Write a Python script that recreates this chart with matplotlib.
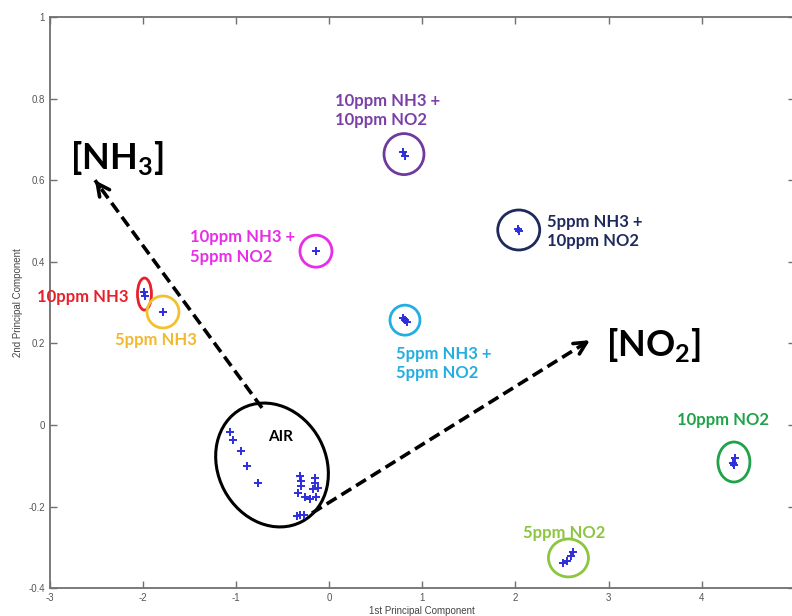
import matplotlib
matplotlib.use("Agg")
import matplotlib.pyplot as plt
import numpy as np
from matplotlib.patches import Ellipse
from matplotlib.transforms import Affine2D, ScaledTranslation

plt.rcParams['mathtext.fontset'] = 'custom'
plt.rcParams['mathtext.rm'] = 'Lato:bold'

# ---- data (PCA scores) ----
air_x = [-1.067, -1.034, -0.948, -0.884, -0.766, -0.315, -0.304, -0.304, -0.154, -0.154,
         -0.175, -0.336, -0.261, -0.207, -0.143, -0.315, -0.272, -0.347, -0.121]
air_y = [-0.017, -0.037, -0.064, -0.100, -0.142, -0.125, -0.137, -0.150, -0.130, -0.142,
         -0.157, -0.167, -0.176, -0.181, -0.176, -0.221, -0.221, -0.223, -0.154]
nh3_10_x = [-1.990, -1.980]
nh3_10_y = [0.326, 0.316]
nh3_5_x = [-1.786]
nh3_5_y = [0.277]
nh3_10_no2_5_x = [-0.143]
nh3_10_no2_5_y = [0.426]
nh3_10_no2_10_x = [0.792, 0.813]
nh3_10_no2_10_y = [0.669, 0.659]
nh3_5_no2_10_x = [2.030, 2.040]
nh3_5_no2_10_y = [0.480, 0.476]
nh3_5_no2_5_x = [0.792, 0.835, 0.812]
nh3_5_no2_5_y = [0.262, 0.252, 0.257]
no2_10_x = [4.358, 4.336, 4.345]
no2_10_y = [-0.081, -0.093, -0.098]
no2_5_x = [2.510, 2.553, 2.596, 2.617]
no2_5_y = [-0.338, -0.333, -0.321, -0.311]

x_ticks = [-3, -2, -1, 0, 1, 2, 3, 4, 5]
x_ticklabels = ['-3', '-2', '-1', '0', '1', '2', '3', '4', '']
y_ticks = [-0.4, -0.2, 0, 0.2, 0.4, 0.6, 0.8, 1]
y_ticklabels = ['-0.4', '-0.2', '0', '0.2', '0.4', '0.6', '0.8', '1']

fig = plt.figure(figsize=(7.92, 6.16), dpi=100)
ax = fig.add_axes([0.0631, 0.0451, 0.9404, 0.9273])
ax.set_xlim(-3, 5)
ax.set_ylim(-0.4, 1)

marker_color = '#2E2EDC'
groups = [
    (air_x, air_y), (nh3_10_x, nh3_10_y), (nh3_5_x, nh3_5_y),
    (nh3_10_no2_5_x, nh3_10_no2_5_y), (nh3_10_no2_10_x, nh3_10_no2_10_y),
    (nh3_5_no2_10_x, nh3_5_no2_10_y), (nh3_5_no2_5_x, nh3_5_no2_5_y),
    (no2_10_x, no2_10_y), (no2_5_x, no2_5_y),
]
for gx, gy in groups:
    ax.plot(gx, gy, linestyle='none', marker='+', ms=5.5, mew=1.4, color=marker_color, zorder=5)


def px_ellipse(xc, yc, w, h, angle, color, lw=2.0):
    tr = Affine2D() + ScaledTranslation(xc, yc, ax.transData)
    e = Ellipse((0, 0), w, h, angle=angle, transform=tr, fill=False,
                edgecolor=color, lw=lw, zorder=4, clip_on=False)
    ax.add_artist(e)


def mean(v):
    return float(np.mean(v))

# circles around clusters (pixel sizes)
circles = [
    (nh3_10_x, nh3_10_y, 14, 32, 0, '#E8202A'),
    (nh3_5_x, nh3_5_y, 32, 32, 0, '#F2C12E'),
    (nh3_10_no2_5_x, nh3_10_no2_5_y, 32, 32, 0, '#E62EE6'),
    (nh3_10_no2_10_x, nh3_10_no2_10_y, 40, 41, 0, '#6E3A9E'),
    (nh3_5_no2_10_x, nh3_5_no2_10_y, 42, 40, 0, '#1F2A5C'),
    (nh3_5_no2_5_x, nh3_5_no2_5_y, 30, 30, 0, '#22AEE0'),
    (no2_10_x, no2_10_y, 32, 40, 0, '#1FA24A'),
    (no2_5_x, no2_5_y, 40, 38, 0, '#8CC63F'),
]
for cx, cy, w, h, a, c in circles:
    px_ellipse(mean(cx), mean(cy), w, h, a, c)

# AIR ellipse
px_ellipse(-0.615, -0.098, 108, 128, 28, 'black', lw=2.2)

# dashed arrows
dash = (0, (3.2, 1.6))
arrows = [((-0.723, 0.042), (-2.517, 0.600)),
          ((-0.186, -0.216), (2.800, 0.208))]
for (tx, ty), (hx, hy) in arrows:
    ax.plot([tx, hx], [ty, hy], color='black', lw=2.6, linestyle=dash, zorder=3,
            solid_capstyle='butt', dash_capstyle='butt')
    sx = hx - 0.03 * (hx - tx)
    sy = hy - 0.03 * (hy - ty)
    ax.annotate('', xy=(hx, hy), xytext=(sx, sy),
                arrowprops=dict(arrowstyle='->', color='black', lw=2.6,
                                mutation_scale=22, shrinkA=0, shrinkB=0), zorder=3)

lab_font = dict(family='Lato', fontweight='bold', fontsize=12)
labels = [
    (0.061, 0.770, '10ppm NH3 +\n10ppm NO2', '#7A3FA8'),
    (-1.496, 0.436, '10ppm NH3 +\n5ppm NO2', '#E62EE6'),
    (-3.140, 0.314, '10ppm NH3', '#E8202A'),
    (-2.302, 0.208, '5ppm NH3', '#F2B82E'),
    (2.338, 0.474, '5ppm NH3 +\n10ppm NO2', '#1F2A5C'),
    (0.716, 0.150, '5ppm NH3 +\n5ppm NO2', '#22AEE0'),
    (3.735, 0.012, '10ppm NO2', '#1FA24A'),
    (2.081, -0.265, '5ppm NO2', '#8CC63F'),
]
for lx, ly, txt, c in labels:
    ax.text(lx, ly, txt, color=c, ha='left', va='center', linespacing=1.25, **lab_font)

ax.text(-0.519, -0.029, 'AIR', color='black', ha='center', va='center',
        family='Lato', fontweight='bold', fontsize=11)

ax.text(-2.280, 0.654, r'[NH$_\mathrm{3}$]', color='black', ha='center', va='center',
        family='Lato', fontweight='bold', fontsize=26)
ax.text(3.477, 0.196, r'[NO$_\mathrm{2}$]', color='black', ha='center', va='center',
        family='Lato', fontweight='bold', fontsize=26)

# axes styling (MATLAB-like)
for s in ax.spines.values():
    s.set_color('#707070')
    s.set_linewidth(1.3)
ax.set_xticks(x_ticks)
ax.set_xticklabels(x_ticklabels)
ax.set_yticks(y_ticks)
ax.set_yticklabels(y_ticklabels)
ax.tick_params(direction='in', length=5, width=1.0, color='#707070',
               labelcolor='#555555', labelsize=7, top=True, right=True)
for t in ax.get_xticklabels() + ax.get_yticklabels():
    t.set_family('Liberation Sans')
ax.set_xlabel('1st Principal Component', fontsize=7, color='#444444',
              family='Liberation Sans', labelpad=2)
ax.set_ylabel('2nd Principal Component', fontsize=7, color='#444444',
              family='Liberation Sans', labelpad=4)

fig.savefig('out.png', dpi=100)
